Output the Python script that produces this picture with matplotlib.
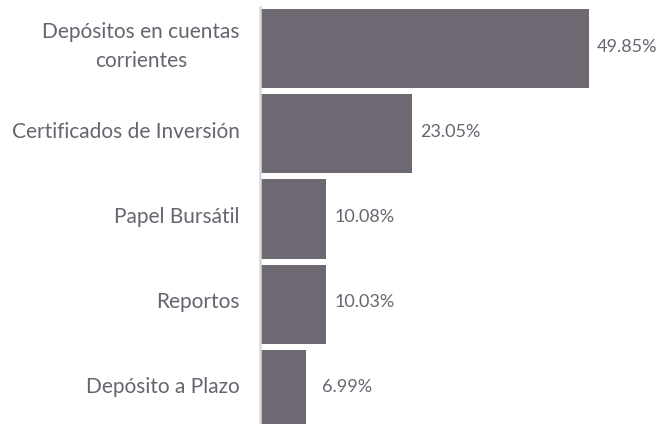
import matplotlib
matplotlib.use("Agg")
import matplotlib.pyplot as plt

categories = ["Depósitos en cuentas\ncorrientes", "Certificados de Inversión",
              "Papel Bursátil", "Reportos", "Depósito a Plazo"]
values = [49.85, 23.05, 10.08, 10.03, 6.99]
value_labels = ["49.85%", "23.05%", "10.08%", "10.03%", "6.99%"]

bar_color = "#6e6873"
text_color = "#68646f"

plt.rcParams['font.family'] = ['Lato', 'DejaVu Sans']

W, H = 671, 424
fig = plt.figure(figsize=(W / 100, H / 100), dpi=100)
ax_left, ax_top, ax_bottom = 260, 6.5, 424
ax = fig.add_axes([ax_left / W, 1 - ax_bottom / H, (W - ax_left) / W, (ax_bottom - ax_top) / H])

ypos = list(range(len(categories)))
ax.barh(ypos, values, height=0.927, color=bar_color)
ax.set_xlim(0, 62.3)
ax.set_ylim(4.405, -0.493)

for y, v, lab in zip(ypos, values, value_labels):
    x = max(v, 8.2)
    ax.annotate(lab, (x, y), xytext=(8, 2), textcoords="offset pixels",
                va="center", ha="left", fontsize=13, color=text_color)

for y, cat in zip(ypos, categories):
    ax.annotate(cat, (0, y), xycoords=("axes fraction", "data"),
                xytext=(-20, 2), textcoords="offset pixels",
                va="center", ha="right", multialignment="center",
                fontsize=15, color=text_color, linespacing=1.55,
                annotation_clip=False)

ax.set_yticks([])
ax.set_xticks([])
for s in ["top", "right", "bottom"]:
    ax.spines[s].set_visible(False)
ax.spines["left"].set_color("#d9d9d9")
ax.spines["left"].set_linewidth(1.8)

fig.savefig("out.png", dpi=100)
